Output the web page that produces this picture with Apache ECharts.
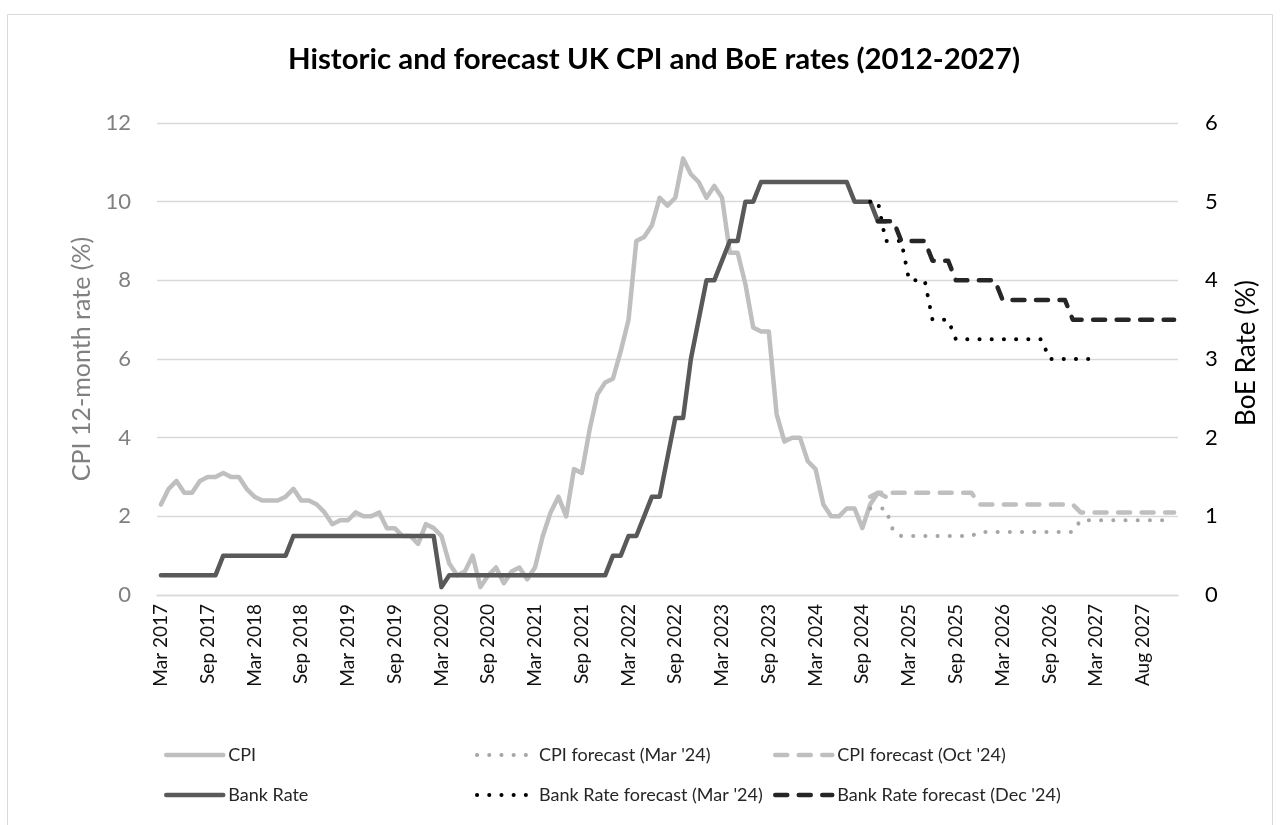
<!DOCTYPE html>
<html>
<head>
<meta charset="utf-8">
<script src="https://cdn.jsdelivr.net/npm/echarts@6/dist/echarts.min.js"></script>
<style>
  html, body { margin: 0; padding: 0; background: #fff; }
  #chart { width: 1280px; height: 825px; }
</style>
</head>
<body>
<div id="chart"></div>
<script>
  // monthly categories, Mar 2017 .. Mar 2027, then the sheet's own tail
  var monthNames = ['Jan', 'Feb', 'Mar', 'Apr', 'May', 'Jun', 'Jul', 'Aug', 'Sep', 'Oct', 'Nov', 'Dec'];
  var tailCategories = ['Apr 2027', 'May 2027', 'Jun 2027', 'Jul 2027', 'Jul 2027', 'Aug 2027',
    'Sep 2027', 'Oct 2027', 'Nov 2027', 'Dec 2027'];

  // CPI 12-month rate, Mar 2017 .. Dec 2024
  var cpi = [
    2.3, 2.7, 2.9, 2.6, 2.6, 2.9, 3.0, 3.0, 3.1, 3.0,
    3.0, 2.7, 2.5, 2.4, 2.4, 2.4, 2.5, 2.7, 2.4, 2.4, 2.3, 2.1,
    1.8, 1.9, 1.9, 2.1, 2.0, 2.0, 2.1, 1.7, 1.7, 1.5, 1.5, 1.3,
    1.8, 1.7, 1.5, 0.8, 0.5, 0.6, 1.0, 0.2, 0.5, 0.7, 0.3, 0.6,
    0.7, 0.4, 0.7, 1.5, 2.1, 2.5, 2.0, 3.2, 3.1, 4.2, 5.1, 5.4,
    5.5, 6.2, 7.0, 9.0, 9.1, 9.4, 10.1, 9.9, 10.1, 11.1, 10.7, 10.5,
    10.1, 10.4, 10.1, 8.7, 8.7, 7.9, 6.8, 6.7, 6.7, 4.6, 3.9, 4.0,
    4.0, 3.4, 3.2, 2.3, 2.0, 2.0, 2.2, 2.2, 1.7, 2.3, 2.6, 2.5
  ];

  // Bank Rate, Mar 2017 .. Dec 2024
  var bankRate = [
    0.25, 0.25, 0.25, 0.25, 0.25, 0.25, 0.25, 0.25, 0.5, 0.5,
    0.5, 0.5, 0.5, 0.5, 0.5, 0.5, 0.5, 0.75, 0.75, 0.75, 0.75, 0.75,
    0.75, 0.75, 0.75, 0.75, 0.75, 0.75, 0.75, 0.75, 0.75, 0.75, 0.75, 0.75,
    0.75, 0.75, 0.1, 0.25, 0.25, 0.25, 0.25, 0.25, 0.25, 0.25, 0.25, 0.25,
    0.25, 0.25, 0.25, 0.25, 0.25, 0.25, 0.25, 0.25, 0.25, 0.25, 0.25, 0.25,
    0.5, 0.5, 0.75, 0.75, 1.0, 1.25, 1.25, 1.75, 2.25, 2.25, 3.0, 3.5,
    4.0, 4.0, 4.25, 4.5, 4.5, 5.0, 5.0, 5.25, 5.25, 5.25, 5.25, 5.25,
    5.25, 5.25, 5.25, 5.25, 5.25, 5.25, 5.25, 5.0, 5.0, 5.0, 4.75, 4.75
  ];

  // forecasts start part-way along the axis
  var cpiFcMarStart = 91;
  var cpiFcMar = [
    2.2, 2.2, 2.2, 1.6, 1.5, 1.5, 1.5, 1.5, 1.5, 1.5, 1.5, 1.5, 1.5, 1.5,
    1.6, 1.6, 1.6, 1.6, 1.6, 1.6, 1.6, 1.6, 1.6, 1.6, 1.6, 1.6, 1.6,
    1.9, 1.9, 1.9, 1.9, 1.9, 1.9, 1.9, 1.9, 1.9, 1.9, 1.9, 1.9, 1.9
  ];
  var cpiFcOctStart = 91;
  var cpiFcOct = [
    2.5, 2.6, 2.6, 2.6, 2.6, 2.6, 2.6, 2.6, 2.6, 2.6, 2.6, 2.6, 2.6, 2.6,
    2.3, 2.3, 2.3, 2.3, 2.3, 2.3, 2.3, 2.3, 2.3, 2.3, 2.3, 2.3, 2.3,
    2.1, 2.1, 2.1, 2.1, 2.1, 2.1, 2.1, 2.1, 2.1, 2.1, 2.1, 2.1, 2.1
  ];
  var bankFcMarStart = 91;
  var bankFcMar = [
    5.0, 5.0, 4.5, 4.5, 4.5, 4.0, 4.0, 4.0, 3.5, 3.5, 3.5,
    3.25, 3.25, 3.25, 3.25, 3.25, 3.25, 3.25, 3.25, 3.25, 3.25, 3.25, 3.25,
    3.0, 3.0, 3.0, 3.0, 3.0, 3.0, 3.0
  ];
  var bankFcDecStart = 92;
  var bankFcDec = [
    4.75, 4.75, 4.75, 4.5, 4.5, 4.5, 4.5, 4.25, 4.25, 4.25,
    4.0, 4.0, 4.0, 4.0, 4.0, 4.0,
    3.75, 3.75, 3.75, 3.75, 3.75, 3.75, 3.75, 3.75, 3.75,
    3.5, 3.5, 3.5, 3.5, 3.5, 3.5, 3.5, 3.5, 3.5, 3.5, 3.5, 3.5, 3.5, 3.5
  ];

  var cpiTicks = [0, 2, 4, 6, 8, 10, 12];
  var rateTicks = [0, 1, 2, 3, 4, 5, 6];

  var categories = [];
  for (var y = 2017; y <= 2027; y++) {
    for (var m = 0; m < 12; m++) {
      if (y === 2017 && m < 2) continue;
      if (y === 2027 && m > 2) break;
      categories.push(monthNames[m] + ' ' + y);
    }
  }
  categories = categories.concat(tailCategories);

  function pad(start, values){
    var out = [];
    for (var i = 0; i < start; i++) out.push(null);
    return out.concat(values);
  }

  var font = 'Lato';
  var chart = echarts.init(document.getElementById('chart'));

  function lineSeries(name, data, axis, color, width, type){
    return {
      name: name,
      type: 'line',
      yAxisIndex: axis,
      data: data,
      symbol: 'none',
      showSymbol: false,
      connectNulls: false,
      lineStyle: { color: color, width: width, type: type, cap: 'round', join: 'round' },
      itemStyle: { color: color },
      z: 2
    };
  }

  function legendColumn(names, left){
    return {
      data: names,
      orient: 'vertical', left: left, top: 740, itemGap: 20,
      itemWidth: 57, itemHeight: 14,
      itemStyle: { color: 'rgba(0,0,0,0)', borderWidth: 0 },
      lineStyle: { width: 'inherit' },
      textStyle: { fontFamily: font, fontSize: 18, color: '#262626', lineHeight: 20 }
    };
  }

  var dotted = [0.1, 12.1];
  var dashed = [12, 11.5];

  chart.setOption({
    animation: false,
    title: {
      text: 'Historic and forecast UK CPI and BoE rates (2012-2027)',
      left: 283,
      top: 40,
      textStyle: { fontFamily: font, fontSize: 29.4, fontWeight: 'bold', color: '#000' }
    },
    graphic: [{
      type: 'rect',
      shape: { x: 7.5, y: 14.5, width: 1265, height: 840 },
      style: { fill: 'none', stroke: '#d9d9d9', lineWidth: 1 },
      silent: true
    }],
    legend: [
      legendColumn(['CPI', 'Bank Rate'], 159),
      legendColumn(['CPI forecast (Mar \'24)', 'Bank Rate forecast (Mar \'24)'], 470),
      legendColumn(['CPI forecast (Oct \'24)', 'Bank Rate forecast (Dec \'24)'], 768)
    ],
    grid: { left: 157, right: 102, top: 123, bottom: 230 },
    xAxis: {
      type: 'category',
      data: categories,
      boundaryGap: true,
      axisLine: { lineStyle: { color: '#d9d9d9', width: 1.3 } },
      axisTick: { show: false },
      axisLabel: {
        interval: 5, rotate: 90, margin: 9,
        fontFamily: font, fontSize: 19, color: '#111'
      },
      splitLine: { show: false }
    },
    yAxis: [
      {
        type: 'value',
        min: cpiTicks[0], max: cpiTicks[cpiTicks.length - 1], interval: 2,
        name: 'CPI 12-month rate (%)',
        nameLocation: 'middle', nameRotate: 90, nameGap: 62,
        nameTextStyle: { fontFamily: font, fontSize: 25, color: '#808080' },
        axisLine: { show: false },
        axisTick: { show: false },
        axisLabel: { margin: 26, fontFamily: font, fontSize: 22, color: '#808080' },
        splitLine: { lineStyle: { color: '#d9d9d9', width: 1.3 } }
      },
      {
        type: 'value',
        min: rateTicks[0], max: rateTicks[rateTicks.length - 1], interval: 1,
        name: 'BoE Rate (%)',
        nameLocation: 'middle', nameRotate: 90, nameGap: 56,
        nameTextStyle: { fontFamily: font, fontSize: 26, color: '#000', padding: [0, 0, 0, 12] },
        axisLine: { show: false },
        axisTick: { show: false },
        axisLabel: { margin: 27, fontFamily: font, fontSize: 22, color: '#000' },
        splitLine: { show: false }
      }
    ],
    series: [
      lineSeries('CPI', cpi, 0, '#bfbfbf', 4.5, 'solid'),
      lineSeries('CPI forecast (Mar \'24)', pad(cpiFcMarStart, cpiFcMar), 0, '#a6a6a6', 4, dotted),
      lineSeries('CPI forecast (Oct \'24)', pad(cpiFcOctStart, cpiFcOct), 0, '#bfbfbf', 4.5, dashed),
      lineSeries('Bank Rate', bankRate, 1, '#595959', 4.5, 'solid'),
      lineSeries('Bank Rate forecast (Mar \'24)', pad(bankFcMarStart, bankFcMar), 1, '#000000', 4, dotted),
      lineSeries('Bank Rate forecast (Dec \'24)', pad(bankFcDecStart, bankFcDec), 1, '#262626', 4.5, dashed)
    ]
  });
</script>
</body>
</html>
